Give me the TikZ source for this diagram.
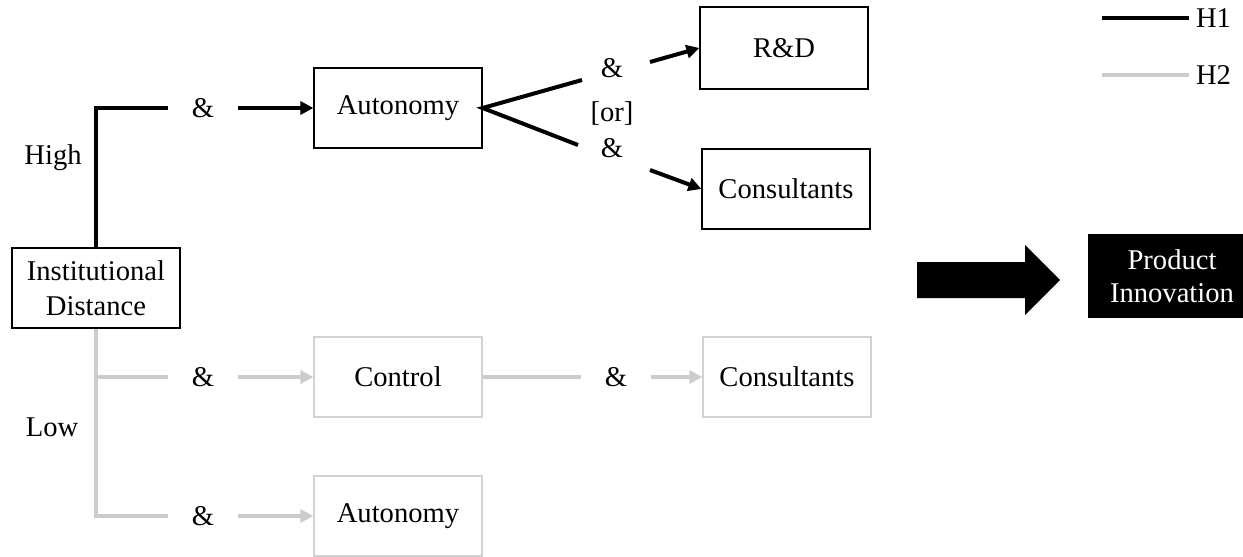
\documentclass[tikz,border=0pt]{standalone}
\usepackage{fontspec}
\setmainfont{Liberation Serif}
\usetikzlibrary{arrows.meta}
\definecolor{hgray}{RGB}{204,204,204}
\definecolor{bgray}{RGB}{210,210,210}
\tikzset{
  hbox/.style={draw, line width=0.6pt, minimum width=84pt, minimum height=40pt, inner sep=2pt, align=center},
  lbox/.style={hbox, draw=bgray},
  amp/.style={minimum width=34.5pt, inner sep=0pt},
  hone/.style={line width=2pt, black},
  htwo/.style={line width=2pt, hgray},
  arr/.style={-{Triangle[length=6.5pt,width=6.5pt]}}
}
\begin{document}
\begin{tikzpicture}[x=0.5pt, y=-0.5pt, font=\fontsize{14.3pt}{17.5pt}\selectfont]
\useasboundingbox (0,0) rectangle (1243,557);
\node[hbox] (inst) at (96,288) {Institutional\\Distance};
\node (high) at (53,158) {High};
\node (low) at (52,427) {Low};
\node[amp] (a1) at (203,108) {\&};
\node[hbox] (aut1) at (398,108) {Autonomy};
\coordinate (s1) at (582,80);
\coordinate (s2) at (578,145);
\node (a2) at (612,68) {\&};
\node (or) at (612,113) {[or]};
\node (a3) at (612,148) {\&};
\coordinate (t1) at (650,62);
\coordinate (t2) at (650,170);
\node[hbox, minimum height=41pt] (rd) at (784,48) {R\&D};
\node[hbox] (con1) at (786,189) {Consultants};
\node[amp] (a4) at (203,377) {\&};
\node[lbox] (ctrl) at (398,377) {Control};
\node[amp] (a5) at (616,377) {\&};
\node[lbox] (con2) at (787,377) {Consultants};
\node[amp] (a6) at (203,516) {\&};
\node[lbox] (aut2) at (398,516) {Autonomy};
\draw[hone] (inst.north) |- (a1.west);
\draw[hone, arr] (a1.east) -- (aut1.west);
\draw[hone] (s1) -- (aut1.east) -- (s2);
\draw[hone, arr] (t1) -- (rd.west);
\draw[hone, arr] (t2) -- (con1.west);
\draw[htwo] (inst.south) |- (a6.west);
\draw[htwo] (inst.south |- a4) -- (a4.west);
\draw[htwo, arr] (a4.east) -- (ctrl.west);
\draw[htwo, arr] (a6.east) -- (aut2.west);
\draw[htwo] (ctrl.east) -- (a5.west);
\draw[htwo, arr] (a5.east) -- (con2.west);
\fill (917,262) -- (1025,262) -- (1025,245) -- (1060,280) -- (1025,315) -- (1025,298) -- (917,298) -- cycle;
\node[fill=black, text=white, minimum width=84pt, minimum height=42pt, align=center, font=\fontsize{14.3pt}{16.5pt}\selectfont] (prod) at (1172,276) {Product\\Innovation};
\coordinate (l1) at (1102,18);
\node[anchor=west] (h1) at (1189,18) {H1};
\coordinate (l2) at (1102,75);
\node[anchor=west] (h2) at (1189,75) {H2};
\draw[hone] (l1) -- (h1.west);
\draw[htwo] (l2) -- (h2.west);
\end{tikzpicture}
\end{document}
